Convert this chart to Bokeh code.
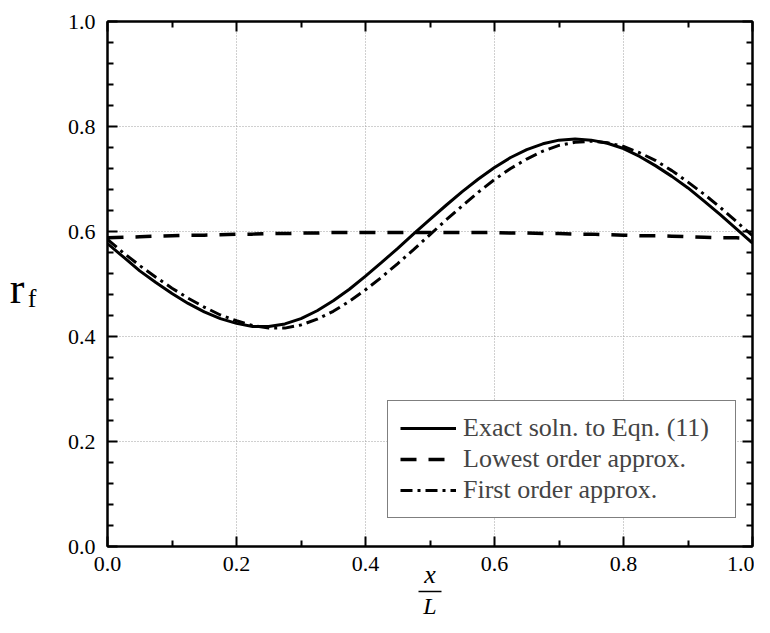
from bokeh.plotting import figure
from bokeh.models import FixedTicker, LinearAxis, Range1d, CustomJSTickFormatter
from bokeh.embed import file_html
from bokeh.resources import INLINE

xs = [0.0, 0.025, 0.05, 0.075, 0.1, 0.125, 0.15, 0.175, 0.2, 0.225, 0.25, 0.275, 0.3,
      0.325, 0.35, 0.375, 0.4, 0.425, 0.45, 0.475, 0.5, 0.525, 0.55, 0.575, 0.6, 0.625,
      0.65, 0.675, 0.7, 0.725, 0.75, 0.775, 0.8, 0.825, 0.85, 0.875, 0.9, 0.925, 0.95,
      0.975, 1.0]
exact = [0.577, 0.551, 0.525, 0.503, 0.482, 0.463, 0.447, 0.434, 0.425, 0.419, 0.419,
         0.424, 0.434, 0.449, 0.468, 0.490, 0.515, 0.541, 0.568, 0.596, 0.623, 0.650,
         0.676, 0.700, 0.722, 0.741, 0.756, 0.767, 0.774, 0.776, 0.774, 0.768, 0.758,
         0.743, 0.725, 0.705, 0.683, 0.658, 0.632, 0.605, 0.578]
lowest = [0.588, 0.589, 0.590, 0.591, 0.592, 0.593, 0.593, 0.594, 0.595, 0.595, 0.596,
          0.596, 0.597, 0.597, 0.598, 0.598, 0.598, 0.598, 0.598, 0.598, 0.598, 0.598,
          0.598, 0.598, 0.598, 0.597, 0.597, 0.596, 0.596, 0.595, 0.595, 0.594, 0.593,
          0.592, 0.592, 0.591, 0.590, 0.589, 0.588, 0.588, 0.587]
first = [0.585, 0.559, 0.535, 0.513, 0.492, 0.473, 0.456, 0.441, 0.430, 0.421, 0.416,
         0.416, 0.422, 0.433, 0.448, 0.467, 0.489, 0.513, 0.539, 0.566, 0.594, 0.622,
         0.649, 0.675, 0.699, 0.720, 0.738, 0.753, 0.764, 0.770, 0.772, 0.769, 0.762,
         0.750, 0.735, 0.716, 0.694, 0.671, 0.646, 0.619, 0.592]
major_ticks = [0.0, 0.2, 0.4, 0.6, 0.8, 1.0]
x_minor = [0.1, 0.3, 0.5, 0.7, 0.9]
y_minor = [0.04, 0.08, 0.12, 0.16, 0.24, 0.28, 0.32, 0.36, 0.44, 0.48, 0.52, 0.56,
           0.64, 0.68, 0.72, 0.76, 0.84, 0.88, 0.92, 0.96]

FONT = "Liberation Serif"

p = figure(frame_width=645, frame_height=525, output_backend="svg", toolbar_location=None,
           x_range=Range1d(0, 1), y_range=Range1d(0, 1),
           min_border_left=107, min_border_right=2, min_border_top=21, min_border_bottom=71)
p.outline_line_color = "black"
p.outline_line_width = 2
p.background_fill_color = "white"
p.border_fill_color = "white"

bottom = p.below[0]
left = p.left[0]
bottom.ticker = FixedTicker(ticks=major_ticks, minor_ticks=x_minor)
left.ticker = FixedTicker(ticks=major_ticks, minor_ticks=y_minor)

top = LinearAxis(ticker=FixedTicker(ticks=major_ticks, minor_ticks=x_minor))
right = LinearAxis(ticker=FixedTicker(ticks=major_ticks, minor_ticks=y_minor))
p.add_layout(top, "above")
p.add_layout(right, "right")

for ax in [bottom, left, top, right]:
    ax.axis_line_color = "black"
    ax.axis_line_width = 2
    ax.major_tick_in = 10
    ax.major_tick_out = 0
    ax.minor_tick_in = 6
    ax.minor_tick_out = 0
    ax.major_tick_line_width = 2
    ax.minor_tick_line_width = 2
    ax.major_label_text_font = FONT
    ax.major_label_text_font_size = "22px"
    ax.major_label_text_color = "black"
bottom.major_label_standoff = 10
left.major_label_standoff = 12
for ax in [top, right]:
    ax.formatter = CustomJSTickFormatter(code="return '';")
    ax.major_label_text_font_size = "1px"
    ax.major_label_standoff = 0
bottom.formatter = CustomJSTickFormatter(code="return tick.toFixed(1);")
left.formatter = CustomJSTickFormatter(code="return tick.toFixed(1);")

for g in [p.xgrid[0], p.ygrid[0]]:
    g.grid_line_color = "#a0a0a0"
    g.grid_line_dash = "1 2"
    g.grid_line_width = 1
p.xgrid[0].ticker = bottom.ticker
p.ygrid[0].ticker = left.ticker


def label_axis(text, size, italic, standoff, **kw):
    ax = LinearAxis(ticker=FixedTicker(ticks=[]), axis_label=text,
                    axis_label_text_font=FONT, axis_label_text_font_size=size,
                    axis_label_text_font_style="italic" if italic else "normal",
                    axis_label_text_color="black", axis_label_standoff=standoff,
                    major_tick_out=0, minor_tick_out=0, major_tick_in=0, minor_tick_in=0,
                    major_label_standoff=0, **kw)
    return ax


# x / L fraction below the x axis
ax_x = label_axis("x", "26px", True, -14, axis_line_color=None)
ax_L = label_axis("L", "24px", True, 1, axis_line_color="black", axis_line_width=1.5,
                  bounds=(0.482, 0.518))
p.add_layout(ax_x, "below")
p.add_layout(ax_L, "below")

# r_f on the left (the leading blank line lowers the subscript)
ax_f = label_axis(" \nf", "26px", False, 28, axis_line_color=None,
                  axis_label_orientation="horizontal", axis_label_text_line_height=1.0)
ax_r = label_axis(" \nr", "44px", False, 0, axis_line_color=None,
                  axis_label_orientation="horizontal", axis_label_text_line_height=0.2)
p.add_layout(ax_f, "left")
p.add_layout(ax_r, "left")

p.line(xs, lowest, line_color="black", line_width=3.5, line_dash="16 12",
       legend_label="Lowest order approx.")
p.line(xs, first, line_color="black", line_width=3, line_dash="12 5 3 5",
       legend_label="First order approx.")
p.line(xs, exact, line_color="black", line_width=3,
       legend_label="Exact soln. to Eqn. (11)")

leg = p.legend[0]
items = leg.items
leg.items = [items[2], items[0], items[1]]
leg.location = (280, 28)
leg.border_line_color = "black"
leg.border_line_width = 1
leg.background_fill_alpha = 1
leg.label_text_font = FONT
leg.label_text_font_size = "26px"
leg.glyph_width = 56
leg.glyph_height = 24
leg.label_standoff = 7
leg.label_width = 260
leg.padding = 12
leg.spacing = 1
leg.margin = 0

open("out.html", "w").write(file_html(p, INLINE))
